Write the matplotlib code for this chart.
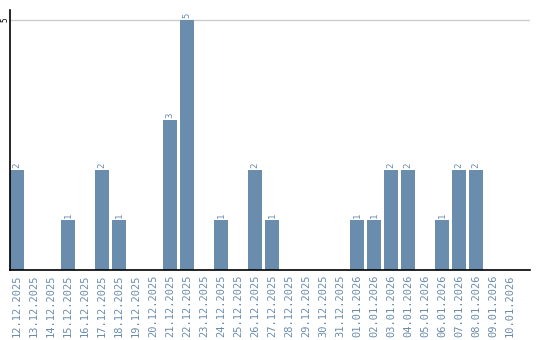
import matplotlib
matplotlib.use('Agg')
import matplotlib.pyplot as plt
import numpy as np

dates = ['12.12.2025', '13.12.2025', '14.12.2025', '15.12.2025', '16.12.2025',
         '17.12.2025', '18.12.2025', '19.12.2025', '20.12.2025', '21.12.2025',
         '22.12.2025', '23.12.2025', '24.12.2025', '25.12.2025', '26.12.2025',
         '27.12.2025', '28.12.2025', '29.12.2025', '30.12.2025', '31.12.2025',
         '01.01.2026', '02.01.2026', '03.01.2026', '04.01.2026', '05.01.2026',
         '06.01.2026', '07.01.2026', '08.01.2026', '09.01.2026', '10.01.2026']
counts = [2, 0, 0, 1, 0, 2, 1, 0, 0, 3,
          5, 0, 1, 0, 2, 1, 0, 0, 0, 0,
          1, 1, 2, 2, 0, 1, 2, 2, 0, 0]

bar_color = '#6a8cad'
text_color = '#6a8cad'

fig = plt.figure(figsize=(5.4, 3.4), dpi=100)
ax = fig.add_axes([10 / 540, 70 / 340, 520 / 540, 260 / 340])

ind = np.arange(len(dates))
width = 14 / 17
ax.bar(ind, counts, width, align='edge', color=bar_color, zorder=2)

# etiquetas com os valores em cima das barras
for i, v in enumerate(counts):
    if v > 0:
        ax.text(i + width / 2, v + 0.04, str(v), rotation=90, ha='center', va='bottom',
                color=text_color, fontsize=6.5, family='DejaVu Sans Mono')

ax.set_xlim(0, 520 / 17)
ax.set_ylim(0, 5.2)
ax.set_xticks(ind + width / 2)
ax.set_xticklabels(dates, rotation=90, color=text_color, fontsize=7.5, family='DejaVu Sans Mono')
ax.set_yticks([5])
ax.set_yticklabels(['5'], rotation=90, va='center', fontsize=5.5, family='DejaVu Sans Mono')
ax.tick_params(axis='both', length=0, pad=3)
ax.tick_params(axis='y', pad=0.5)
ax.axhline(5, color='#cccccc', linewidth=1, zorder=1)

for s in ['top', 'right']:
    ax.spines[s].set_visible(False)
ax.spines['left'].set_linewidth(1.2)
ax.spines['bottom'].set_linewidth(1.2)

fig.savefig('out.png', dpi=100)
